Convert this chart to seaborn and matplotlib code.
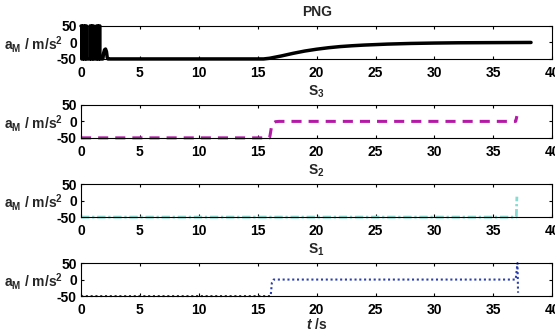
import matplotlib
matplotlib.use('Agg')
import matplotlib.pyplot as plt
import seaborn as sns

# PNG guidance command (bang-bang start, then smooth approach to zero)
png_t = [0, 0.06, 0.06, 0.16, 0.16, 0.26, 0.26, 0.36, 0.36, 0.46, 0.46, 0.76, 0.76, 0.86, 0.86,
         0.96, 0.96, 1.06, 1.06, 1.32, 1.32, 1.42, 1.42, 1.52, 1.52, 1.60, 1.60,
         1.85, 1.92, 2.00, 2.08, 2.16, 2.22, 2.28,
         15.5, 16, 17, 18, 19, 20, 21, 22, 23, 24, 25, 26, 28, 30, 32, 35, 38.2]
png_a = [50, 50, -50, -50, 50, 50, -50, -50, 50, 50, -50, -50, 50, 50, -50,
         -50, 50, 50, -50, -50, 50, 50, -50, -50, 50, 50, -50,
         -50, -32, -22, -20, -28, -45, -50,
         -50, -48, -41, -33, -26, -20.5, -16, -12.5, -10, -8, -6.5, -5, -3, -1.8, -1, -0.5, 0]

s3_t = [0, 16.0, 16.05, 16.15, 16.3, 16.5, 16.8, 36.9, 37.0]
s3_a = [-50, -50, -42, -20, -6, -1, 0, 0, 16]

s2_t = [0, 36.95, 37.0]
s2_a = [-50, -50, 12]

s1_t = [0, 16.1, 16.2, 16.35, 36.9, 37.05, 37.1]
s1_a = [-50, -50, -10, 0, 0, 50, -40]

titles = ['PNG', 'S$_3$', 'S$_2$', 'S$_1$']
xticks = [0, 5, 10, 15, 20, 25, 30, 35, 40]
yticks = [-50, 0, 50]

sns.set_theme(style='ticks')
plt.rcParams['font.family'] = ['Liberation Sans', 'DejaVu Sans']
plt.rcParams['font.weight'] = 'bold'
plt.rcParams['axes.unicode_minus'] = False
plt.rcParams['mathtext.fontset'] = 'custom'
plt.rcParams['mathtext.rm'] = 'Liberation Sans:bold'
plt.rcParams['mathtext.bf'] = 'Liberation Sans:bold'
plt.rcParams['mathtext.it'] = 'Liberation Sans:italic:bold'
plt.rcParams['mathtext.default'] = 'rm'

fig = plt.figure(figsize=(5.55, 3.33), dpi=100)

series = [
    (png_t, png_a, 'black', 2.5, '-'),
    (s3_t, s3_a, '#b31ba6', 2.2, (0, (3.3, 2.3))),
    (s2_t, s2_a, '#86dcd2', 2.0, (0, (3, 1, 0.8, 1))),
    (s1_t, s1_a, '#2a3fb0', 1.5, (0, (1, 1.3))),
]
bottoms = [0.823, 0.586, 0.348, 0.111]

for i, (t, a, c, lw, ls) in enumerate(series):
    ax = fig.add_axes([0.146, bottoms[i], 0.849, 0.099])
    sns.lineplot(x=t, y=a, ax=ax, color=c, lw=lw, linestyle=ls,
                 sort=False, estimator=None, clip_on=False)
    ax.set_xlim(0, 40)
    ax.set_ylim(-50, 50)
    ax.set_xticks(xticks)
    ax.set_yticks(yticks)
    ax.tick_params(direction='in', top=True, right=True, length=2.5, width=0.8,
                   labelsize=10, colors='black')
    ax.tick_params(axis='x', pad=5)
    ax.tick_params(axis='y', pad=3)
    for lab in ax.get_xticklabels() + ax.get_yticklabels():
        lab.set_fontweight('bold')
    for sp in ax.spines.values():
        sp.set_linewidth(0.8)
        sp.set_color('black')
    ax.set_title(titles[i], fontsize=10, fontweight='bold', pad=7)
    ax.set_ylabel('a$_M$ / m/s$^2$', fontsize=10, fontweight='bold',
                  rotation=0, ha='right', va='center')
    ax.yaxis.set_label_coords(-0.038, 0.45)
    ax.set_xlabel('')

ax.set_xlabel('$\\mathit{t}$ /s', fontsize=10, fontweight='bold', labelpad=0)

fig.savefig('out.png', dpi=100)
